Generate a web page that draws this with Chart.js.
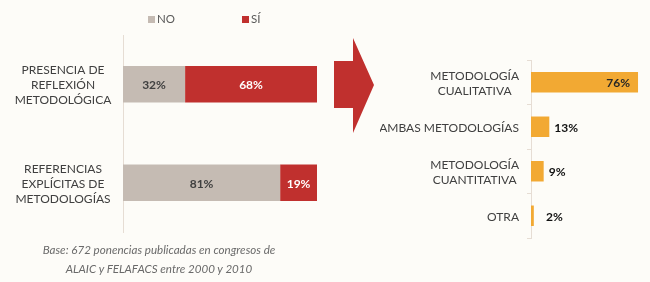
<!DOCTYPE html>
<html><head><meta charset="utf-8">
<script src="https://cdn.jsdelivr.net/npm/chart.js@4/dist/chart.umd.min.js"></script>
<style>
html,body{margin:0;padding:0;background:#fdfcf8;}
#wrap{position:relative;width:650px;height:282px;overflow:hidden;font-family:Lato,"Open Sans",sans-serif;}
canvas{position:absolute;}
#c1{left:0;top:0;}
#c2{left:380px;top:0;}
.sw{position:absolute;top:16px;width:7px;height:7px;}
.lt{position:absolute;top:12px;font-size:11.5px;line-height:14px;color:#595959;}
#note{position:absolute;left:0;width:318px;top:240px;text-align:center;font-style:italic;font-size:11.6px;color:#6a6a6a;line-height:19px;}
svg{position:absolute;left:0;top:0;}
</style></head>
<body><div id="wrap">
<canvas id="c1" width="330" height="250"></canvas>
<canvas id="c2" width="270" height="282"></canvas>
<svg width="650" height="282"><polygon points="334,61 353,61 353,38 374,85 353,133 353,108 334,108" fill="#c0302e"/></svg>
<div class="sw" style="left:148px;background:#c5bbb3"></div><div class="lt" style="left:157px" id="l0"></div>
<div class="sw" style="left:242px;background:#c0302e"></div><div class="lt" style="left:251px" id="l1"></div>
<div id="note">Base: 672 ponencias publicadas en congresos de<br>ALAIC y FELAFACS entre 2000 y 2010</div>
</div>
<script>
const leftCategories = [['PRESENCIA DE','REFLEXIÓN','METODOLÓGICA'], ['REFERENCIAS','EXPLÍCITAS DE','METODOLOGÍAS']];
const seriesNames = ['NO','SÍ'];
const noValues = [32, 81];
const siValues = [68, 19];
const rightCategories = [['METODOLOGÍA','CUALITATIVA'], ['AMBAS METODOLOGÍAS'], ['METODOLOGÍA','CUANTITATIVA'], ['OTRA']];
const methodValues = [76, 13, 9, 2];

document.getElementById('l0').textContent = seriesNames[0];
document.getElementById('l1').textContent = seriesNames[1];

const FONT = 'Lato, "Open Sans", sans-serif';

const valuePlugin = {
  id:'vals',
  afterDatasetsDraw(chart, args, o){
    const ctx = chart.ctx;
    ctx.save();
    ctx.font = 'bold 12px ' + FONT;
    ctx.textBaseline = 'middle';
    chart.data.datasets.forEach((ds, di) => {
      const meta = chart.getDatasetMeta(di);
      meta.data.forEach((bar, i) => {
        const txt = ds.data[i] + '%';
        if (o.mode === 'center') {
          ctx.textAlign = 'center';
          ctx.fillStyle = o.colors[di];
          ctx.fillText(txt, (bar.x + bar.base) / 2, bar.y + 1);
        } else {
          const w = bar.x - bar.base;
          if (w > 40) {
            ctx.textAlign = 'right';
            ctx.fillStyle = '#262626';
            ctx.fillText(txt, bar.x - 8, bar.y + 1);
          } else {
            ctx.textAlign = 'left';
            ctx.fillStyle = '#111111';
            ctx.fillText(txt, Math.max(bar.x + 5, bar.base + 15), bar.y + 1);
          }
        }
      });
    });
    ctx.restore();
  }
};

const catPlugin = {
  id:'cats',
  afterDraw(chart, args, o){
    const ctx = chart.ctx, sc = chart.scales.y;
    ctx.save();
    ctx.font = '12px ' + FONT;
    ctx.fillStyle = o.color;
    ctx.textBaseline = 'middle';
    ctx.textAlign = 'center';
    chart.data.labels.forEach((lab, i) => {
      const lines = Array.isArray(lab) ? lab : [lab];
      const y0 = sc.getPixelForValue(i) - (lines.length - 1) * o.lineHeight / 2;
      const w = Math.max(...lines.map(l => ctx.measureText(l).width));
      const cx = o.center != null ? sc.right - o.center : sc.right - o.gap - w / 2;
      lines.forEach((l, k) => ctx.fillText(l, cx, y0 + k * o.lineHeight + 1));
    });
    ctx.restore();
  }
};

new Chart(document.getElementById('c1'), {
  type:'bar',
  data:{labels:leftCategories, datasets:[
    {label:seriesNames[0], data:noValues, backgroundColor:'#c5bbb3'},
    {label:seriesNames[1], data:siValues, backgroundColor:'#c0302e'}
  ]},
  options:{
    indexAxis:'y', responsive:false, animation:false,
    layout:{padding:{top:35,bottom:18,left:0,right:13}},
    datasets:{bar:{categoryPercentage:1, barPercentage:0.37, borderWidth:0}},
    plugins:{legend:{display:false}, tooltip:{enabled:false},
      vals:{mode:'center', colors:['#404040','#ffffff']},
      cats:{center:60, lineHeight:15, color:'#404040'}},
    scales:{
      x:{stacked:true, min:0, max:100, display:false},
      y:{stacked:true, grid:{display:false}, border:{color:'#e6ddd4', width:1}, ticks:{display:false}, afterFit(s){s.width=123;}}
    }
  },
  plugins:[valuePlugin, catPlugin]
});

new Chart(document.getElementById('c2'), {
  type:'bar',
  data:{labels:rightCategories, datasets:[
    {label:'Metodología', data:methodValues, backgroundColor:'#f2a933'}
  ]},
  options:{
    indexAxis:'y', responsive:false, animation:false,
    layout:{padding:{top:60,bottom:44,left:0,right:0}},
    datasets:{bar:{categoryPercentage:1, barPercentage:0.46, borderWidth:0}},
    plugins:{legend:{display:false}, tooltip:{enabled:false},
      vals:{mode:'end'},
      cats:{gap:12, lineHeight:15, color:'#404040'}},
    scales:{
      x:{min:0, max:84.5, display:false},
      y:{grid:{display:true, drawOnChartArea:false, drawTicks:true, tickLength:4, color:'#e6ddd4', offset:true}, border:{color:'#e6ddd4', width:1}, ticks:{display:false}, afterFit(s){s.width=151;}}
    }
  },
  plugins:[valuePlugin, catPlugin]
});
</script>
</body></html>
